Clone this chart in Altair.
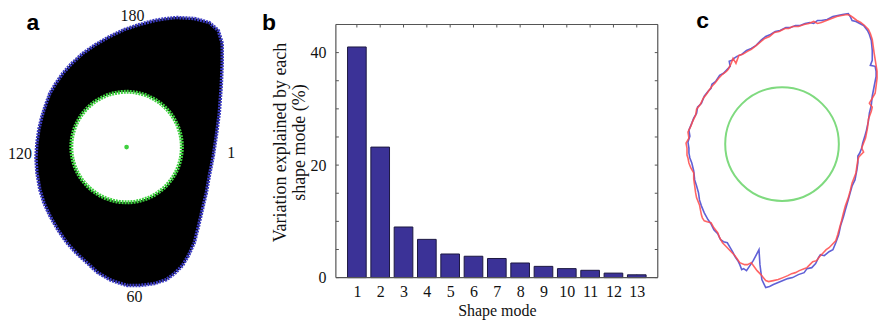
import altair as alt
import pandas as pd

# ---------------- Panel b data ----------------
modes = list(range(1, 14))
variation = [41.0, 23.2, 9.0, 6.8, 4.2, 3.8, 3.4, 2.6, 2.0, 1.6, 1.3, 0.8, 0.5]
x_limits = [0.1, 13.9]
y_limits = [0, 45]
y_minor_ticks = [0, 5, 10, 15, 20, 25, 30, 35, 40, 45]
y_tick_labels = [0, 20, 40]

# ---------------- Panel a data (outline in image pixel units) ----------------
a_x = [177, 195, 210, 219, 223, 223, 222, 220, 217, 214, 210, 207, 203, 199, 195, 189, 183, 175, 167, 155,
       140, 128, 118, 110, 98, 87, 77, 67, 58, 50, 44, 40, 37, 36, 37, 39, 42, 46, 50, 56,
       63, 72, 83, 96, 110, 125, 140, 155, 167, 177]
a_y = [14, 15, 19, 27, 40, 60, 83, 110, 133, 153, 173, 190, 207, 224, 240, 253, 263, 271, 277, 281,
       283, 283, 280, 277, 270, 260, 251, 240, 227, 213, 200, 187, 170, 155, 140, 126, 113, 101, 90, 80,
       70, 60, 50, 41, 33, 26, 21, 17, 15, 14]
a_center = [127, 144]
a_angle_text = ["180", "1", "60", "120"]
a_angle_x = [133, 232, 135, 20]
a_angle_y = [13, 150, 294, 151]

panel_letters = ["a", "b", "c"]
letter_x = [33, 270, 705]
letter_y = [27, 27, 25]

# ---------------- Panel c data ----------------
c_blue_x = [692, 691, 693, 692, 695, 697, 700, 701, 705, 708, 712, 715, 716, 720, 724, 728, 732, 735, 734, 737,
            739, 742, 747, 752, 757, 762, 767, 772, 777, 782, 787, 793, 798, 803, 808, 813, 818, 822, 826, 830,
            836, 842, 847, 852, 858, 860, 862, 866, 870, 874, 878, 880, 882, 883, 883, 881, 886, 887, 887, 885,
            883, 882, 880, 879, 877, 875, 873, 872, 870, 868, 868, 867, 866, 865, 862, 860, 858, 855, 853, 850,
            848, 845, 842, 838, 833, 829, 827, 824, 820, 815, 812, 806, 800, 795, 790, 785, 780, 776, 772, 770,
            768, 766, 765, 759, 752, 749, 747, 745, 743, 740, 738, 735, 732, 728, 725, 722, 718, 715, 712, 708,
            705, 703, 702, 700, 698, 697, 695, 693, 692, 692]
c_blue_y = [145, 139, 133, 127, 120, 115, 110, 104, 100, 93, 88, 85, 81, 78, 72, 70, 66, 63, 58, 57,
            55, 53, 51, 47, 45, 42, 37, 33, 31, 28, 27, 24, 24, 22, 22, 20, 19, 20, 17, 17,
            16, 13, 12, 11, 10, 13, 17, 18, 20, 22, 27, 31, 37, 47, 57, 62, 63, 68, 73, 83,
            93, 102, 110, 118, 127, 134, 140, 145, 150, 153, 160, 167, 172, 177, 183, 190, 197, 207, 214, 223,
            232, 240, 247, 249, 253, 252, 255, 261, 265, 266, 270, 272, 275, 276, 278, 280, 282, 284, 285, 281,
            277, 262, 247, 258, 268, 266, 267, 262, 258, 254, 250, 245, 240, 239, 237, 231, 227, 221, 217, 210,
            203, 197, 190, 183, 177, 168, 160, 155, 150, 145]
c_red_x = [690, 689, 692, 691, 694, 696, 699, 700, 704, 707, 711, 713, 716, 719, 723, 727, 731, 733, 736, 738,
           741, 744, 748, 753, 757, 761, 766, 771, 776, 781, 786, 792, 796, 800, 806, 812, 817, 822, 826, 830,
           838, 846, 851, 857, 860, 863, 867, 871, 875, 879, 881, 883, 884, 885, 886, 887, 888, 888, 887, 886,
           883, 880, 883, 882, 879, 878, 877, 876, 874, 872, 874, 873, 869, 868, 867, 866, 864, 862, 860, 858,
           855, 853, 851, 849, 847, 845, 841, 838, 835, 832, 828, 825, 821, 818, 815, 812, 807, 803, 799, 795,
           790, 785, 780, 775, 772, 767, 763, 757, 753, 750, 745, 740, 737, 735, 731, 727, 724, 722, 718, 715,
           711, 708, 706, 705, 704, 703, 700, 699, 698, 697, 697, 694, 692, 691, 690, 690]
c_red_y = [145, 140, 135, 129, 123, 118, 112, 106, 101, 95, 90, 87, 83, 80, 75, 71, 68, 66, 60, 55,
           60, 52, 51, 48, 46, 43, 39, 35, 33, 29, 28, 25, 25, 23, 23, 21, 20, 18, 20, 19,
           16, 13, 12, 11, 12, 14, 17, 19, 22, 26, 30, 36, 43, 50, 56, 62, 68, 75, 83, 90,
           95, 100, 104, 108, 116, 125, 130, 135, 140, 145, 149, 150, 154, 157, 163, 170, 175, 180, 188, 195,
           203, 210, 218, 225, 232, 238, 242, 245, 247, 250, 254, 258, 259, 262, 265, 266, 268, 270, 271, 273,
           275, 277, 278, 279, 278, 272, 268, 260, 262, 262, 260, 253, 250, 248, 244, 240, 235, 230, 225, 220,
           219, 218, 215, 212, 207, 202, 195, 190, 183, 176, 170, 165, 160, 155, 152, 145]
c_center = [789, 141]

SERIF = "Liberation Serif"
SANS = "Liberation Sans"

# ---------------- Panel a ----------------
df_a = pd.DataFrame({"x": a_x, "y": a_y, "i": range(len(a_x))})
df_ac = pd.DataFrame({"x": [a_center[0]], "y": [a_center[1]]})
df_at = pd.DataFrame({"x": a_angle_x, "y": a_angle_y, "t": a_angle_text})
df_letters = pd.DataFrame({"x": letter_x, "y": letter_y, "t": panel_letters})

A_W, A_H = 317, 310
xa = alt.X("x:Q", scale=alt.Scale(domain=[8, 8 + A_W], nice=False, zero=False), axis=None)
ya = alt.Y("y:Q", scale=alt.Scale(domain=[8, 8 + A_H], nice=False, zero=False, reverse=True), axis=None)

a_fill = alt.Chart(df_a).mark_line(fill="black", stroke="black", strokeWidth=1).encode(
    x=xa, y=ya, order="i:Q")
a_border = alt.Chart(df_a).mark_line(stroke="#3d3dc4", strokeWidth=3.5, strokeDash=[2, 1]).encode(
    x=xa, y=ya, order="i:Q")
a_ring = alt.Chart(df_ac).mark_point(shape="circle", size=12300, filled=True, fill="white",
                                     stroke="#3fd03f", strokeWidth=4, strokeDash=[2, 1],
                                     opacity=1).encode(x=xa, y=ya)
a_dot = alt.Chart(df_ac).mark_circle(size=22, color="#3fd03f", opacity=1).encode(x=xa, y=ya)
a_nums = alt.Chart(df_at).mark_text(font=SERIF, fontSize=16, baseline="middle", align="center",
                                    color="#111").encode(x=xa, y=ya, text="t:N")
letters = alt.Chart(df_letters).mark_text(font=SANS, fontSize=23, fontWeight="bold",
                                          baseline="alphabetic", align="center",
                                          color="black").encode(x=xa, y=ya, text="t:N")
panel_a = alt.layer(a_fill, a_border, a_ring, a_dot, a_nums, letters).properties(width=A_W, height=A_H)

# ---------------- Panel b ----------------
B_W, B_H = 323, 310
px_per_y = 254 / (y_limits[1] - y_limits[0])
y_dom = [y_limits[0] - (318 - 275) / px_per_y, y_limits[1] + (21 - 8) / px_per_y]
px_per_x = B_W / (x_limits[1] - x_limits[0])
tx = 3 / px_per_x
ty = 3 / px_per_y

df_b = pd.DataFrame({"mode": modes, "v": variation})

xscale = alt.Scale(domain=x_limits, nice=False, zero=False)
yscale = alt.Scale(domain=y_dom, nice=False, zero=False)
x_axis = alt.Axis(values=modes, format="d", title="Shape mode", ticks=False, domain=False, grid=False,
                  offset=-43, labelPadding=6, titlePadding=3, labelOverlap=False,
                  labelFont=SERIF, labelFontSize=16, labelColor="#111",
                  titleFont=SERIF, titleFontSize=16, titleFontWeight="normal", titleColor="#111")
y_axis = alt.Axis(values=y_tick_labels, title=["Variation explained by each", "shape mode (%)"],
                  ticks=False, domain=False, grid=False, labelPadding=10, titlePadding=1,
                  labelFont=SERIF, labelFontSize=16, labelColor="#111",
                  titleFont=SERIF, titleFontSize=18, titleFontWeight="normal", titleColor="#111",
                  titleY=131)

bars = alt.Chart(df_b).transform_calculate(
    lo="datum.mode - 0.4", hi="datum.mode + 0.4", base="0"
).mark_bar(color="#3b3297", stroke="#1c1840", strokeWidth=1).encode(
    x=alt.X("lo:Q", scale=xscale, axis=x_axis),
    x2="hi:Q",
    y=alt.Y("v:Q", scale=yscale, axis=y_axis),
    y2="base:Q",
)

tick_rows = []
for v in y_minor_ticks:
    tick_rows.append({"x": x_limits[0], "x2": x_limits[0] + tx, "y": v, "y2": v})
    tick_rows.append({"x": x_limits[1] - tx, "x2": x_limits[1], "y": v, "y2": v})
for m in modes:
    tick_rows.append({"x": m, "x2": m, "y": y_limits[1] - ty, "y2": y_limits[1]})
    tick_rows.append({"x": m, "x2": m, "y": y_limits[0], "y2": y_limits[0] + ty})
frame_rows = [
    {"x": x_limits[0], "x2": x_limits[0], "y": y_limits[0], "y2": y_limits[1]},
    {"x": x_limits[1], "x2": x_limits[1], "y": y_limits[0], "y2": y_limits[1]},
    {"x": x_limits[0], "x2": x_limits[1], "y": y_limits[1], "y2": y_limits[1]},
    {"x": x_limits[0], "x2": x_limits[1], "y": y_limits[0], "y2": y_limits[0]},
]
ticks = alt.Chart(pd.DataFrame(tick_rows)).mark_rule(color="#555", strokeWidth=1).encode(
    x=alt.X("x:Q", scale=xscale, axis=x_axis), x2="x2:Q",
    y=alt.Y("y:Q", scale=yscale, axis=y_axis), y2="y2:Q")
frame = alt.Chart(pd.DataFrame(frame_rows)).mark_rule(color="#555", strokeWidth=1.2).encode(
    x=alt.X("x:Q", scale=xscale, axis=x_axis), x2="x2:Q",
    y=alt.Y("y:Q", scale=yscale, axis=y_axis), y2="y2:Q")

panel_b = alt.layer(ticks, bars, frame).properties(width=B_W, height=B_H)

# ---------------- Panel c ----------------
C_W, C_H = 209, 310
xc = alt.X("x:Q", scale=alt.Scale(domain=[672, 889], nice=False, zero=False), axis=None)
yc = alt.Y("y:Q", scale=alt.Scale(domain=[8, 8 + C_H], nice=False, zero=False, reverse=True), axis=None)

df_cb = pd.DataFrame({"x": c_blue_x, "y": c_blue_y, "i": range(len(c_blue_x))})
df_cr = pd.DataFrame({"x": c_red_x, "y": c_red_y, "i": range(len(c_red_x))})
df_cc = pd.DataFrame({"x": [c_center[0]], "y": [c_center[1]]})

c_blue = alt.Chart(df_cb).mark_line(stroke="#4f4fd2", strokeWidth=1.6, opacity=0.9).encode(
    x=xc, y=yc, order="i:Q")
c_red = alt.Chart(df_cr).mark_line(stroke="#ff4a4a", strokeWidth=1.6, opacity=0.85).encode(
    x=xc, y=yc, order="i:Q")
c_ring = alt.Chart(df_cc).mark_point(shape="circle", size=13000, filled=False, stroke="#7fda7f",
                                     strokeWidth=2, opacity=1).encode(x=xc, y=yc)
panel_c = alt.layer(c_ring, c_blue, c_red).properties(width=C_W, height=C_H)

chart = alt.hconcat(panel_a, panel_b, panel_c, spacing=12, bounds="flush").properties(
    padding=0
).configure_view(stroke=None)

chart.save("out.html", embed_options={"renderer": "svg", "actions": False})
